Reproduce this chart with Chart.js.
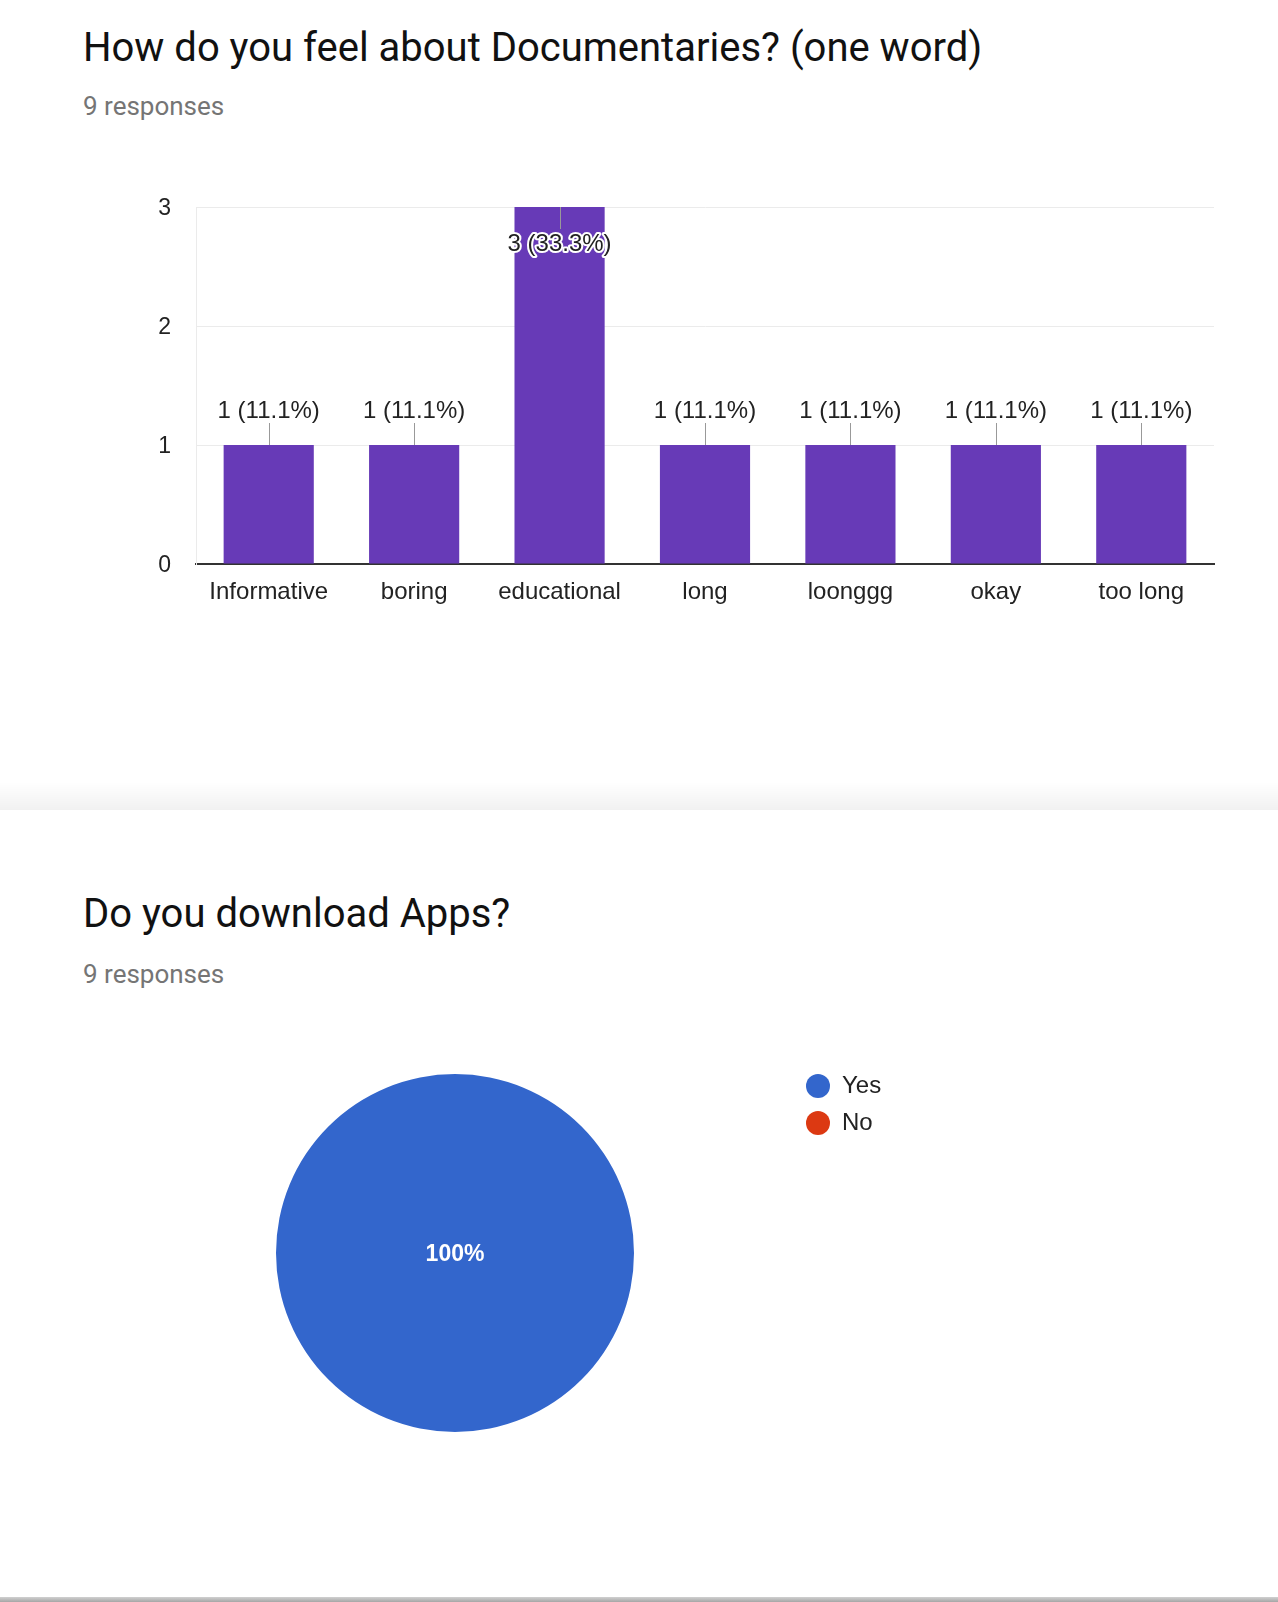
<!DOCTYPE html>
<html>
<head>
<meta charset="utf-8">
<script src="https://cdn.jsdelivr.net/npm/chart.js@4.4.1/dist/chart.umd.min.js"></script>
<style>
  html, body { margin:0; padding:0; background:#fff; }
  body { width:1278px; height:1602px; position:relative; overflow:hidden; }
  .title { position:absolute; left:83px; font-family:Roboto, "Noto Sans", sans-serif; font-size:40px; line-height:40px; color:#111111; white-space:nowrap; }
  .sub { position:absolute; left:83px; font-family:Roboto, "Noto Sans", sans-serif; font-size:26px; line-height:26px; color:#757575; white-space:nowrap; }
  #sep { position:absolute; left:0; top:782px; width:1278px; height:28px; background:linear-gradient(to bottom, rgba(0,0,0,0), rgba(0,0,0,0.055)); }
  #bottom { position:absolute; left:0; top:1597px; width:1278px; height:5px; background:linear-gradient(to bottom, #d0d0d0, #a6a6a6); }
  #barWrap { position:absolute; left:0; top:150px; width:1278px; height:500px; }
  #pieWrap { position:absolute; left:117px; top:1061px; height:384px; }
</style>
</head>
<body>
<div class="title" style="top:28px">How do you feel about Documentaries? (one word)</div>
<div class="sub" style="top:93px">9 responses</div>
<div id="barWrap"><canvas id="bar" width="1278" height="500"></canvas></div>
<div id="sep"></div>
<div class="title" style="top:894px">Do you download Apps?</div>
<div class="sub" style="top:961px">9 responses</div>
<div id="pieWrap"><canvas id="pie" height="384"></canvas></div>
<div id="bottom"></div>
<script>
// ---- data ----
const barCategories = ["Informative", "boring", "educational", "long", "loonggg", "okay", "too long"];
const barCounts = [1, 1, 3, 1, 1, 1, 1];
const barTotal = 9;
const yTicks = [0, 1, 2, 3];

const pieLabels = ["Yes", "No"];
const pieCounts = [9, 0];

const FONT = '"Liberation Sans", Arial, sans-serif';

// ---- bar chart ----
const barLabelPlugin = {
  id: 'barLabels',
  afterDatasetsDraw(chart) {
    const ctx = chart.ctx;
    const meta = chart.getDatasetMeta(0);
    const yScale = chart.scales.y;
    ctx.save();
    ctx.font = '24px ' + FONT;
    ctx.textAlign = 'center';
    ctx.textBaseline = 'middle';
    meta.data.forEach((bar, i) => {
      const v = barCounts[i];
      const pct = (v / barTotal * 100).toFixed(1);
      const text = v + ' (' + pct + '%)';
      const x = Math.round(bar.x) + 0.5;
      const top = bar.y;
      ctx.strokeStyle = '#999999';
      ctx.lineWidth = 1;
      if (v >= yScale.max) {
        ctx.beginPath(); ctx.moveTo(x, top); ctx.lineTo(x, top + 22); ctx.stroke();
        ctx.lineJoin = 'round';
        ctx.strokeStyle = '#ffffff';
        ctx.lineWidth = 4;
        ctx.strokeText(text, bar.x, top + 37);
        ctx.fillStyle = '#222222';
        ctx.fillText(text, bar.x, top + 37);
      } else {
        ctx.beginPath(); ctx.moveTo(x, top); ctx.lineTo(x, top - 22); ctx.stroke();
        ctx.fillStyle = '#222222';
        ctx.fillText(text, bar.x, top - 34);
      }
    });
    ctx.restore();
  }
};

new Chart(document.getElementById('bar'), {
  type: 'bar',
  data: {
    labels: barCategories,
    datasets: [{ data: barCounts, backgroundColor: '#673ab7', borderWidth: 0,
      categoryPercentage: 1.0, barPercentage: 0.62 }]
  },
  options: {
    responsive: false, animation: false, events: [],
    layout: { padding: { top: 57, right: 64, bottom: 0, left: 0 } },
    plugins: { legend: { display: false }, tooltip: { enabled: false } },
    scales: {
      x: {
        afterFit: (a) => { a.height = 86; },
        grid: { drawTicks: false, color: (c) => (c.index === 0 || c.index === barCategories.length) ? '#ebebeb' : 'rgba(0,0,0,0)' },
        border: { color: '#333333', width: 2 },
        ticks: { color: '#222222', font: { family: FONT, size: 24 }, padding: 14 }
      },
      y: {
        min: yTicks[0], max: yTicks[yTicks.length - 1],
        afterFit: (a) => { a.width = 196; },
        afterBuildTicks: (a) => { a.ticks = yTicks.map(v => ({ value: v })); },
        grid: { drawTicks: false, color: '#ebebeb' },
        border: { color: '#ebebeb' },
        ticks: { color: '#222222', font: { family: FONT, size: 23 }, padding: 25, labelOffset: 2 }
      }
    }
  },
  plugins: [barLabelPlugin]
});

// ---- pie chart ----
const legendFont = 24, legendPad = 13, boxW = 24;
const mctx = document.createElement('canvas').getContext('2d');
mctx.font = legendFont + 'px ' + FONT;
const maxText = Math.max(...pieLabels.map(t => mctx.measureText(t).width));
const legendWidth = legendPad + boxW + legendFont / 2 + maxText + 10;
const pieAreaW = 676;
const pieCanvas = document.getElementById('pie');
pieCanvas.width = Math.ceil(pieAreaW + legendWidth) + 2;
document.getElementById('pieWrap').style.width = pieCanvas.width + 'px';

const pieLabelPlugin = {
  id: 'pieLabels',
  afterDatasetsDraw(chart) {
    const ctx = chart.ctx;
    const meta = chart.getDatasetMeta(0);
    const total = pieCounts.reduce((a, b) => a + b, 0);
    ctx.save();
    ctx.font = 'bold 23px ' + FONT;
    ctx.fillStyle = '#ffffff';
    ctx.textAlign = 'center';
    ctx.textBaseline = 'middle';
    meta.data.forEach((arc, i) => {
      const v = pieCounts[i];
      if (!v) return;
      const frac = v / total;
      const text = Math.round(frac * 100) + '%';
      let p;
      if (frac >= 1) p = { x: arc.x, y: arc.y + 2 };
      else p = arc.tooltipPosition();
      ctx.fillText(text, p.x, p.y);
    });
    ctx.restore();
  }
};

new Chart(pieCanvas, {
  type: 'pie',
  data: {
    labels: pieLabels,
    datasets: [{ data: pieCounts, backgroundColor: ['#3366cc', '#dc3912'], borderWidth: 0, radius: 179 }]
  },
  options: {
    responsive: false, animation: false, events: [],
    layout: { padding: { top: 0, right: pieCanvas.width - pieAreaW - legendWidth, bottom: 0, left: 0 } },
    plugins: {
      tooltip: { enabled: false },
      legend: {
        position: 'right', align: 'start',
        labels: { usePointStyle: true, pointStyle: 'circle', pointStyleWidth: boxW, boxHeight: 17,
          padding: legendPad, color: '#222222', font: { family: FONT, size: legendFont } }
      }
    }
  },
  plugins: [pieLabelPlugin]
});
</script>
</body>
</html>
